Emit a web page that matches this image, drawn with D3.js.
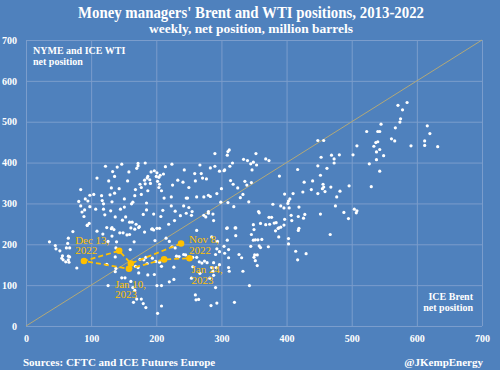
<!DOCTYPE html>
<html>
<head>
<meta charset="utf-8">
<script src="https://cdn.jsdelivr.net/npm/d3@7"></script>
<style>
  body { margin: 0; background: #4f81bd; }
  svg { display: block; }
  text { font-family: "Liberation Serif", "DejaVu Serif", serif; fill: #fff; }
  .grid line { stroke: #7b9dcc; stroke-width: 1; }
  .grid .domain { display: none; }
  .axis .domain, .axis line { display: none; }
  .axis text { font-size: 10px; font-weight: bold; fill: #fff; }
</style>
</head>
<body>
<svg id="chart"></svg>
<script>
// weekly net positions, million barrels
const brent = [
  122,147,140,172,183,172,170,224,214,133,158,197,192,201,187,200,204,206,211,136,
  109,127,156,186,182,190,202,205,183,175,177,168,187,191,204,208,225,233,143,131,
  84,104,98,91,81,84,95,107,98,90,86,89,97,94,116,129,136,117,132,119,
  119,121,130,137,145,151,151,162,164,167,177,185,185,180,196,210,207,212,223,223,
  229,153,148,159,163,169,174,132,135,194,205,219,228,
  448,457,453,448,462,452,456,457,455,459,448,438,440,427,417,425,410,397,405,403,
  402,396,391,404,419,379,389,373,368,353,349,354,347,345,340,334,317,313,305,304,
  297,290,290,309,310,312,283,267,269,259,271,277,243,241,260,250,300,314,318,325,
  336,346,339,333,329,293,280,283,273,262,246,248,299,310,342,319,242,250,255,246,
  254,237,273,280,280,276,287,288,357,358,373,377,368,381,384,387,391,396,397,407,
  418,408,419,428,426,452,309,321,349,360,374,
  585,571,578,575,574,567,545,523,540,543,561,566,540,537,534,543,538,549,538,527,
  543,508,502,481,469,473,473,591,612,612,616,620,632,530,496,468,482,477,475,488,
  495,504,508,507,467,
  36,45,46,52,62,67,64,56,55,57,65,66,61,65,67,78,72,65,94,109,
  118,124,131,132,126,139,138,144,149,155,159,161,167,173,166,182,193,196,201,198,
  215,220,224,160,137,124,138,137,147,152,126,161,164,167,170,177,180,184,165,173,
  172,168,175,181,184,186,194,199,205,208,187,197,201,208,208,202,227,227,220,229,231,
  262,308,322,346,350,349,352,356,362,322,285,294,309,358,360,372,345,388,383,388,
  403,403,418,414,430,417,304,311,305,297,293,327,331,311,291,288,278,274,270,266,
  262,256,245,242,235,351,355,350,352,355,333,311,312,297,292,285,287,288,282,267,
  256,254,291,343,260,265,261,284,293,320
]
const wti = [
  391,396,389,398,399,392,386,396,390,378,377,380,377,375,366,366,364,369,372,366,
  362,355,355,362,357,358,354,347,348,347,339,334,331,349,339,331,345,357,336,338,
  334,322,320,311,305,294,306,286,292,284,279,268,251,247,319,321,325,307,304,299,
  286,272,282,267,286,291,311,299,303,319,322,301,284,273,274,283,268,313,316,294,
  281,267,259,254,254,249,243,241,236,238,239,249,258,
  454,454,413,392,386,369,347,340,336,329,324,334,355,352,383,328,324,323,311,306,
  300,289,294,289,291,298,367,405,409,422,401,394,382,397,405,408,399,391,382,380,
  379,391,422,418,427,431,387,394,373,373,362,360,382,352,355,339,336,356,347,338,
  354,351,345,322,314,324,320,317,316,316,313,313,303,302,304,292,294,290,280,276,
  271,270,271,280,276,267,274,258,280,277,266,266,248,252,253,239,242,247,261,271,
  268,258,239,273,264,274,240,240,248,251,249,
  547,540,529,507,499,485,494,476,476,476,458,453,451,449,440,432,426,417,407,397,
  379,441,419,419,418,409,399,441,453,442,490,471,439,341,343,340,330,316,294,278,
  263,286,282,277,224,
  206,197,189,184,191,191,202,172,166,162,162,156,157,171,169,142,231,215,246,232,
  225,241,238,220,207,206,191,228,228,223,224,240,237,241,206,230,237,235,239,209,
  215,207,194,187,169,151,141,133,118,118,99,109,94,87,66,66,55,45,58,130,
  143,146,163,162,168,153,166,158,156,146,125,126,99,99,49,31,144,114,108,191,171,
  234,239,240,224,236,210,211,211,212,221,218,207,210,196,192,194,195,218,233,240,
  214,201,234,183,177,162,195,187,178,182,189,175,167,167,175,155,155,159,154,157,
  168,168,174,175,170,174,174,168,160,148,134,143,134,150,143,143,134,124,117,129,
  145,117,94,99,76,65,64,50,56,58
]

// highlighted weeks, Nov 2022 - Jan 2023
const recentBrent = [238, 161, 143, 89, 158, 212, 251]
const recentWti = [202, 153, 184, 159, 140, 163, 166]
const recentLabels = [
  { i: 0, lines: ['Nov 8,', '2022'], dx: 8, dy: 0 },
  { i: 2, lines: ['Dec 13,', '2022'], dx: -44, dy: -7 },
  { i: 4, lines: ['Jan 10,', '2023'], dx: -14, dy: 19 },
  { i: 6, lines: ['Jan 24,', '2023'], dx: 2, dy: 15 }
]

const ticks = [0, 100, 200, 300, 400, 500, 600, 700]

const W = 500, H = 370
const svg = d3.select('#chart').attr('width', W).attr('height', H)

svg.append('rect').attr('width', W).attr('height', H).attr('fill', '#4f81bd')

const x = d3.scaleLinear().domain([0, 700]).range([26, 482])
const y = d3.scaleLinear().domain([0, 700]).range([326, 40])

// Gridlines
svg.append('g').classed('grid', true)
  .attr('transform', `translate(0,${y(0)})`)
  .call(d3.axisBottom(x).tickValues(ticks).tickSize(y(700) - y(0)).tickFormat(''))
svg.append('g').classed('grid', true)
  .attr('transform', `translate(${x(0)},0)`)
  .call(d3.axisLeft(y).tickValues(ticks).tickSize(x(0) - x(700)).tickFormat(''))

// Axes labels
svg.append('g').classed('axis', true)
  .attr('transform', `translate(0,${y(0)})`)
  .call(d3.axisBottom(x).tickValues(ticks).tickSize(0).tickPadding(9))
svg.append('g').classed('axis', true)
  .attr('transform', `translate(${x(0)},0)`)
  .call(d3.axisLeft(y).tickValues(ticks).tickSize(0).tickPadding(9))

// 45 degree line
svg.append('line')
  .attr('x1', x(0)).attr('y1', y(0))
  .attr('x2', x(700)).attr('y2', y(700))
  .attr('stroke', '#b2a878').attr('stroke-width', 1)

// Weekly points
const pts = brent.map((b, i) => [b, wti[i]])
svg.append('g').selectAll('circle')
  .data(pts)
  .enter().append('circle')
    .attr('cx', d => x(d[0]))
    .attr('cy', d => y(d[1]))
    .attr('r', 1.6)
    .attr('fill', '#fff')

// Recent path
const recent = recentBrent.map((b, i) => [b, recentWti[i]])
svg.append('path')
  .datum(recent)
  .attr('d', d3.line().x(d => x(d[0])).y(d => y(d[1])))
  .attr('fill', 'none')
  .attr('stroke', '#ffc000')
  .attr('stroke-width', 1.8)
  .attr('stroke-dasharray', '5,3')
svg.append('g').selectAll('circle')
  .data(recent)
  .enter().append('circle')
    .attr('cx', d => x(d[0]))
    .attr('cy', d => y(d[1]))
    .attr('r', 3.3)
    .attr('fill', '#ffc000')

const lab = svg.append('g')
recentLabels.forEach(l => {
  const d = recent[l.i]
  const t = lab.append('text')
    .attr('x', x(d[0]) + l.dx)
    .attr('y', y(d[1]) + l.dy)
    .style('fill', '#ffc000')
    .style('font-size', '11px')
  l.lines.forEach((s, k) => {
    t.append('tspan').attr('x', x(d[0]) + l.dx).attr('dy', k ? 10.5 : 0).text(s)
  })
})

// Titles
svg.append('text')
  .attr('x', 251).attr('y', 18)
  .attr('text-anchor', 'middle')
  .attr('textLength', 346).attr('lengthAdjust', 'spacingAndGlyphs')
  .style('font-size', '16px').style('font-weight', 'bold')
  .text("Money managers' Brent and WTI positions, 2013-2022")
svg.append('text')
  .attr('x', 251).attr('y', 33)
  .attr('text-anchor', 'middle')
  .attr('textLength', 204).attr('lengthAdjust', 'spacingAndGlyphs')
  .style('font-size', '13px').style('font-weight', 'bold')
  .text('weekly, net position, million barrels')

// Axis captions
const cap = svg.append('g').style('font-size', '10px').style('font-weight', 'bold')
cap.append('text').attr('x', 33).attr('y', 54).text('NYME and ICE WTI')
cap.append('text').attr('x', 33).attr('y', 65).text('net position')
cap.append('text').attr('x', 473).attr('y', 300).attr('text-anchor', 'end').text('ICE Brent')
cap.append('text').attr('x', 473).attr('y', 311).attr('text-anchor', 'end').text('net position')

// Footer
svg.append('text')
  .attr('x', 23).attr('y', 366)
  .style('font-size', '11px').style('font-weight', 'bold')
  .text('Sources: CFTC and ICE Futures Europe')
svg.append('text')
  .attr('x', 483).attr('y', 366)
  .attr('text-anchor', 'end')
  .style('font-size', '11px').style('font-weight', 'bold')
  .text('@JKempEnergy')
</script>
</body>
</html>
